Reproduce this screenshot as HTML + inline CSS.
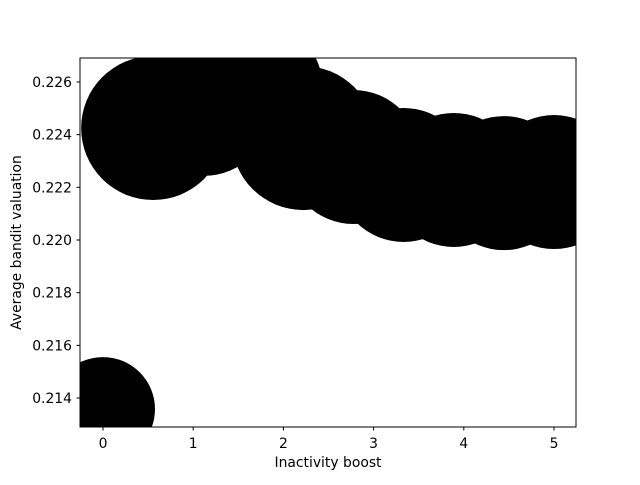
<!DOCTYPE html>
<html><head><meta charset="utf-8"><style>
body{margin:0;background:#fff}
svg text{font-family:"DejaVu Sans","Liberation Sans",sans-serif;font-size:13.9px;fill:#000}
</style></head><body>
<svg id="chart" width="640" height="480">
<defs><clipPath id="clip"><rect x="80" y="58" width="496" height="369"/></clipPath></defs>
<g id="marks" clip-path="url(#clip)"></g>
<rect x="80" y="58" width="496" height="369" fill="none" stroke="#000" stroke-width="1"/>
<g id="axes"></g>
<text x="328" y="467" text-anchor="middle">Inactivity boost</text>
<text transform="translate(21,242.5) rotate(-90)" text-anchor="middle">Average bandit valuation</text>
</svg>
<script>
const xValues=[0,0.556,1.111,1.667,2.222,2.778,3.333,3.889,4.444,5];
const yValues=[0.21358,0.22425,0.22509,0.2257,0.22387,0.22315,0.22247,0.22228,0.22216,0.2222];
const sizes=[52,72,70,70,72,67,67,67,67,67];
const xTicks=[0,1,2,3,4,5];
const yTicks=[0.214,0.216,0.218,0.220,0.222,0.224,0.226];
const NS="http://www.w3.org/2000/svg";
const L=80,R=576,T=58,B=427,xmin=-0.255,xmax=5.244,ymin=0.21290,ymax=0.22691;
const sx=v=>L+(v-xmin)/(xmax-xmin)*(R-L);
const sy=v=>B-(v-ymin)/(ymax-ymin)*(B-T);
const marks=document.getElementById('marks');
xValues.forEach((x,i)=>{
 const c=document.createElementNS(NS,'circle');
 c.setAttribute('cx',sx(x));c.setAttribute('cy',sy(yValues[i]));c.setAttribute('r',sizes[i]);c.setAttribute('fill','#000');
 
 
 marks.appendChild(c);
});
const axes=document.getElementById('axes');
xTicks.forEach(t=>{
 const x=sx(t);
 const l=document.createElementNS(NS,'line');
 l.setAttribute('x1',x);l.setAttribute('x2',x);l.setAttribute('y1',B);l.setAttribute('y2',B+3.5);l.setAttribute('stroke','#000');
 
 
 axes.appendChild(l);
 const tx=document.createElementNS(NS,'text');
 tx.setAttribute('x',x);tx.setAttribute('y',B+21);tx.setAttribute('text-anchor','middle');tx.textContent=t;
 
 
 axes.appendChild(tx);
});
yTicks.forEach(t=>{
 const y=sy(t);
 const l=document.createElementNS(NS,'line');
 l.setAttribute('x1',L-3.5);l.setAttribute('x2',L);l.setAttribute('y1',y);l.setAttribute('y2',y);l.setAttribute('stroke','#000');
 
 
 axes.appendChild(l);
 const tx=document.createElementNS(NS,'text');
 tx.setAttribute('x',L-8);tx.setAttribute('y',y+5);tx.setAttribute('text-anchor','end');tx.textContent=t.toFixed(3);
 
 
 axes.appendChild(tx);
});
</script>
</body></html>
